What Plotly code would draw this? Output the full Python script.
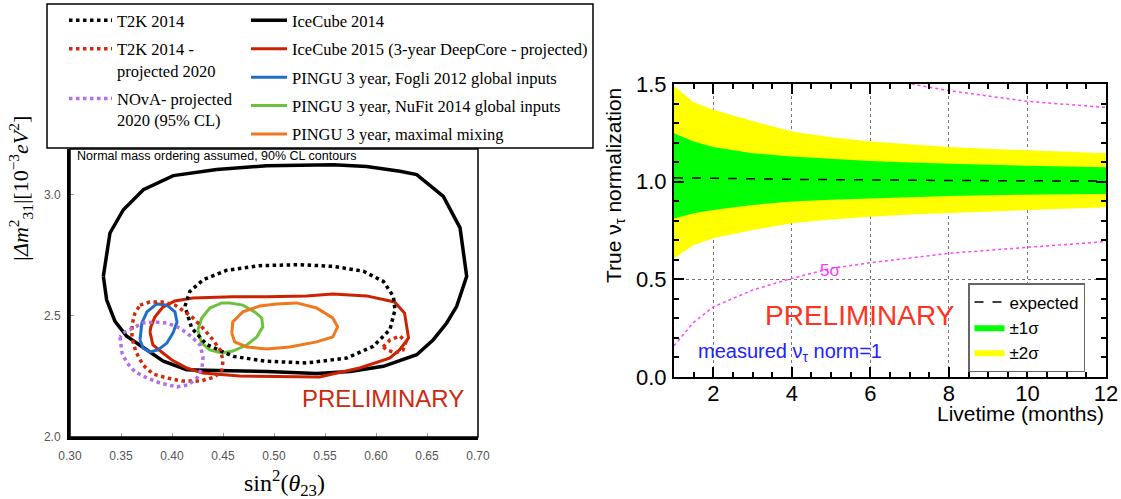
import plotly.graph_objects as go

# ---------------- Left panel: 90% CL contours (sin^2 theta23, |dm31^2|) ----------------
ic14_x = [0.3327, 0.3392, 0.3523, 0.3719, 0.4013, 0.4438, 0.4928, 0.5582, 0.5908, 0.6235,
          0.6399, 0.6660, 0.6824, 0.6889, 0.6791, 0.6693, 0.6562, 0.6399, 0.6072, 0.5745,
          0.5418, 0.4928, 0.4438, 0.4144, 0.3915, 0.3752, 0.3556, 0.3441, 0.3359]
ic14_y = [2.664, 2.843, 2.939, 3.022, 3.080, 3.105, 3.121, 3.125, 3.118, 3.098,
          3.084, 2.994, 2.864, 2.664, 2.540, 2.471, 2.402, 2.340, 2.292, 2.271,
          2.262, 2.271, 2.275, 2.278, 2.313, 2.361, 2.416, 2.478, 2.567]

t2k_x = [0.4127, 0.4176, 0.4307, 0.4536, 0.4863, 0.5255, 0.5582, 0.5876, 0.6072, 0.6170,
         0.6186, 0.6137, 0.5974, 0.5712, 0.5320, 0.4928, 0.4601, 0.4340, 0.4193]
t2k_y = [2.540, 2.602, 2.650, 2.689, 2.708, 2.712, 2.705, 2.685, 2.643, 2.581,
         2.526, 2.444, 2.375, 2.326, 2.306, 2.313, 2.333, 2.382, 2.450]

t2kp_x = [0.3686, 0.3784, 0.3902, 0.4029, 0.4127, 0.4196, 0.4304, 0.4402, 0.4471, 0.4500,
          0.4490, 0.4422, 0.4275, 0.4098, 0.3951, 0.3814, 0.3716, 0.3647, 0.3608, 0.3608, 0.3637]
t2kp_y = [2.545, 2.558, 2.558, 2.545, 2.517, 2.496, 2.450, 2.401, 2.360, 2.318,
          2.277, 2.248, 2.231, 2.231, 2.244, 2.260, 2.298, 2.351, 2.409, 2.463, 2.512]
t2kp2_x = [0.6069, 0.6137, 0.6235, 0.6294, 0.6265, 0.6186, 0.6108]
t2kp2_y = [2.372, 2.401, 2.417, 2.393, 2.360, 2.347, 2.360]

nova_x = [0.3490, 0.3510, 0.3559, 0.3637, 0.3754, 0.3882, 0.4049, 0.4157, 0.4245, 0.4294,
          0.4304, 0.4275, 0.4196, 0.4078, 0.3951, 0.3833, 0.3716, 0.3617, 0.3519]
nova_y = [2.413, 2.347, 2.306, 2.269, 2.244, 2.223, 2.207, 2.215, 2.244, 2.285,
          2.331, 2.380, 2.413, 2.450, 2.471, 2.475, 2.471, 2.450, 2.430]

ic15_x = [0.3784, 0.3813, 0.3911, 0.3999, 0.4146, 0.4302, 0.4664, 0.5154, 0.5448, 0.5575,
          0.5839, 0.6133, 0.6231, 0.6319, 0.6280, 0.6182, 0.5908, 0.5575, 0.5320, 0.4928,
          0.4595, 0.4204, 0.4028, 0.3911, 0.3832, 0.3793]
ic15_y = [2.434, 2.380, 2.347, 2.318, 2.285, 2.264, 2.252, 2.248, 2.248, 2.260,
          2.285, 2.326, 2.360, 2.409, 2.512, 2.558, 2.583, 2.591, 2.583, 2.579,
          2.579, 2.574, 2.562, 2.537, 2.496, 2.455]

fogli_x = [0.3686, 0.3705, 0.3754, 0.3852, 0.3950, 0.4029, 0.4049, 0.4010, 0.3950, 0.3862, 0.3784, 0.3716]
fogli_y = [2.401, 2.471, 2.517, 2.550, 2.545, 2.517, 2.475, 2.430, 2.388, 2.360, 2.351, 2.368]

nufit_x = [0.4253, 0.4292, 0.4371, 0.4488, 0.4566, 0.4694, 0.4811, 0.4880, 0.4890, 0.4831,
           0.4733, 0.4596, 0.4488, 0.4371, 0.4292]
nufit_y = [2.442, 2.492, 2.533, 2.554, 2.554, 2.545, 2.517, 2.492, 2.455, 2.413,
           2.380, 2.355, 2.347, 2.360, 2.388]

maxmix_x = [0.4586, 0.4596, 0.4694, 0.4860, 0.5027, 0.5222, 0.5418, 0.5575, 0.5624, 0.5575,
            0.5418, 0.5154, 0.4929, 0.4733, 0.4615]
maxmix_y = [2.430, 2.475, 2.517, 2.541, 2.550, 2.554, 2.533, 2.492, 2.455, 2.413,
            2.393, 2.372, 2.364, 2.372, 2.393]

left_xticks = [0.30, 0.35, 0.40, 0.45, 0.50, 0.55, 0.60, 0.65, 0.70]
left_yticks = [2.0, 2.5, 3.0]

# ---------------- Right panel: nu_tau normalization vs livetime ----------------
months = [1, 1.5, 2, 3, 4, 5, 6, 7, 8, 9, 10, 11, 12]
sig2_hi = [1.490, 1.406, 1.368, 1.310, 1.257, 1.228, 1.206, 1.190, 1.177, 1.168, 1.160, 1.152, 1.146]
sig2_lo = [0.607, 0.676, 0.710, 0.752, 0.787, 0.806, 0.821, 0.832, 0.841, 0.849, 0.855, 0.862, 0.869]
sig1_hi = [1.248, 1.206, 1.177, 1.146, 1.129, 1.116, 1.106, 1.098, 1.091, 1.086, 1.081, 1.077, 1.074]
sig1_lo = [0.812, 0.838, 0.855, 0.881, 0.898, 0.907, 0.915, 0.921, 0.927, 0.931, 0.934, 0.936, 0.937]
exp_x = [1, 4, 8, 12]
exp_y = [1.020, 1.012, 1.006, 1.003]
fivesig_lo_x = [1, 1.5, 2, 3, 4, 5, 6, 8, 10, 12]
fivesig_lo_y = [0.160, 0.280, 0.359, 0.445, 0.505, 0.556, 0.585, 0.633, 0.664, 0.693]
fivesig_hi_x = [6.9, 8, 10, 12]
fivesig_hi_y = [1.505, 1.466, 1.411, 1.380]

W, H = 1121, 499
def px(v): return v / W
def py(v): return (H - v) / H

fig = go.Figure()

def closed(a):
    return list(a) + [a[0]]

def contour(x, y, name, color, width, dash, legend, show=True):
    fig.add_trace(go.Scatter(x=closed(x), y=closed(y), mode="lines", name=name,
                             line=dict(color=color, width=width, dash=dash),
                             legend=legend, legendgroup=name, showlegend=show,
                             xaxis="x", yaxis="y", hoverinfo="skip"))

RED = "#cc2200"
RED_DOT = "#d42a0c"
PURPLE = "#b46ee8"
BLUE = "#1f6fc8"
GREEN = "#6cc23c"
ORANGE = "#f0781e"

contour(ic14_x, ic14_y, "IceCube 2014", "black", 3.5, "solid", "legend2")
contour(ic15_x, ic15_y, "IceCube 2015 (3-year DeepCore - projected)", RED, 3, "solid", "legend2")
contour(fogli_x, fogli_y, "PINGU 3 year, Fogli 2012 global inputs", BLUE, 3, "solid", "legend2")
contour(nufit_x, nufit_y, "PINGU 3 year, NuFit 2014 global inputs", GREEN, 3, "solid", "legend2")
contour(maxmix_x, maxmix_y, "PINGU 3 year, maximal mixing", ORANGE, 3, "solid", "legend2")
contour(t2k_x, t2k_y, "T2K 2014", "black", 3.5, "dot", "legend")
contour(t2kp_x, t2kp_y, "T2K 2014 -<br>projected 2020", RED_DOT, 3.5, "dot", "legend")
contour(t2kp2_x, t2kp2_y, "T2K 2014 -<br>projected 2020", RED_DOT, 3.5, "dot", "legend", show=False)
contour(nova_x, nova_y, "NOvA- projected<br>2020 (95% CL)", PURPLE, 3.5, "dot", "legend")

# ---- right panel traces
fig.add_trace(go.Scatter(x=months + months[::-1], y=sig2_hi + sig2_lo[::-1], mode="lines",
                         fill="toself", fillcolor="#ffff00", line=dict(width=0, color="#ffff00"),
                         name="±2σ", legend="legend3", legendrank=3,
                         xaxis="x2", yaxis="y2", hoverinfo="skip"))
fig.add_trace(go.Scatter(x=months + months[::-1], y=sig1_hi + sig1_lo[::-1], mode="lines",
                         fill="toself", fillcolor="#00ff00", line=dict(width=0, color="#00ff00"),
                         name="±1σ", legend="legend3", legendrank=2,
                         xaxis="x2", yaxis="y2", hoverinfo="skip"))
fig.add_trace(go.Scatter(x=exp_x, y=exp_y, mode="lines", name="expected",
                         line=dict(color="black", width=1.5, dash="dash"),
                         legend="legend3", legendrank=1, xaxis="x2", yaxis="y2", hoverinfo="skip"))
fig.add_trace(go.Scatter(x=fivesig_lo_x, y=fivesig_lo_y, mode="lines", showlegend=False,
                         line=dict(color="#ff44ff", width=1.5, dash="dot"),
                         xaxis="x2", yaxis="y2", hoverinfo="skip"))
fig.add_trace(go.Scatter(x=fivesig_hi_x, y=fivesig_hi_y, mode="lines", showlegend=False,
                         line=dict(color="#ff44ff", width=1.5, dash="dot"),
                         xaxis="x2", yaxis="y2", hoverinfo="skip"))

SANS = "Liberation Sans, Arial, sans-serif"
SERIF = "Liberation Serif, Times New Roman, serif"

fig.update_layout(
    width=W, height=H, margin=dict(l=0, r=0, t=0, b=0, autoexpand=False),
    paper_bgcolor="white", plot_bgcolor="white",
    font=dict(family=SANS, color="black"),
    xaxis=dict(domain=[px(70), px(478)], range=[0.30, 0.70], tickvals=left_xticks,
               tickformat=".2f", showgrid=False, zeroline=False, showline=True,
               linecolor="black", linewidth=3, ticks="inside", ticklen=4, tickcolor="#999",
               tickfont=dict(family=SANS, size=12, color="#555"), ticklabelstandoff=6,
               anchor="y", automargin=False),
    yaxis=dict(domain=[py(437), py(149)], range=[2.0, 3.19], tickvals=left_yticks,
               tickformat=".1f", showgrid=False, zeroline=False, showline=True,
               linecolor="black", linewidth=3, ticks="inside", ticklen=4, tickcolor="#999",
               tickfont=dict(family=SANS, size=12, color="#555"), ticklabelstandoff=4,
               anchor="x", automargin=False),
    xaxis2=dict(domain=[px(674), px(1106)], range=[1, 12], tick0=0, dtick=2,
                showgrid=True, gridcolor="#777", griddash="dot", gridwidth=1, zeroline=False,
                showline=True, linecolor="black", linewidth=2, mirror="ticks",
                ticks="inside", ticklen=10, tickcolor="black", tickwidth=1.5,
                minor=dict(dtick=0.5, ticks="inside", ticklen=5, tickcolor="black", showgrid=False),
                tickfont=dict(family=SANS, size=22, color="black"), layer="above traces",
                ticklabelstandoff=-4, anchor="y2", automargin=False),
    yaxis2=dict(domain=[py(377), py(84)], range=[0, 1.5], tick0=0, dtick=0.5, tickformat=".1f",
                showgrid=True, gridcolor="#777", griddash="dot", gridwidth=1, zeroline=False,
                showline=True, linecolor="black", linewidth=2, mirror="ticks",
                ticks="inside", ticklen=10, tickcolor="black", tickwidth=1.5,
                minor=dict(dtick=0.1, ticks="inside", ticklen=5, tickcolor="black", showgrid=False),
                tickfont=dict(family=SANS, size=22, color="black"), layer="above traces",
                ticklabelstandoff=1, anchor="x2", automargin=False),
    legend=dict(x=px(64), y=py(3), xanchor="left", yanchor="top", bgcolor="rgba(0,0,0,0)",
                font=dict(family=SERIF, size=16.5, color="black"), valign="top",
                tracegroupgap=4, itemwidth=43),
    legend2=dict(x=px(246), y=py(3), xanchor="left", yanchor="top", bgcolor="rgba(0,0,0,0)",
                 font=dict(family=SERIF, size=16.5, color="black"), valign="top",
                 tracegroupgap=4, itemwidth=36),
    legend3=dict(x=px(968), y=py(283), xanchor="left", yanchor="top", bgcolor="white",
                 bordercolor="#666", borderwidth=1.5,
                 font=dict(family=SANS, size=17, color="black"), tracegroupgap=1,
                 traceorder="normal", itemwidth=30),
    showlegend=True,
)

# Left legend box and thin top/right frame
fig.add_shape(type="rect", xref="x domain", yref="y domain", x0=0, x1=1, y0=0, y1=1,
              line=dict(color="black", width=1.5), layer="above")
fig.add_shape(type="rect", xref="paper", yref="paper", x0=px(47), x1=px(593), y0=py(148), y1=py(4),
              line=dict(color="black", width=1.5), fillcolor="white", layer="above")

annots = [
    dict(x=0.3049, y=3.161, xref="x", yref="y", text="Normal mass ordering assumed, 90% CL contours",
         xanchor="left", yanchor="middle", showarrow=False, font=dict(family=SANS, size=12.5, color="black")),
    dict(x=0.6066, y=2.161, xref="x", yref="y", text="PRELIMINARY", showarrow=False,
         xanchor="center", yanchor="middle", font=dict(family=SANS, size=24, color="#cc2a10")),
    dict(x=px(20), y=py(189), xref="paper", yref="paper", textangle=-90, showarrow=False,
         xanchor="center", yanchor="middle",
         text="<i>|Δm</i><sup>2</sup><sub>31</sub>|[10<sup>−3</sup><i>eV</i><sup>2</sup>]",
         font=dict(family=SERIF, size=22, color="black")),
    dict(x=px(284), y=py(483), xref="paper", yref="paper", showarrow=False,
         xanchor="center", yanchor="middle",
         text="sin<sup>2</sup>(<i>θ</i><sub>23</sub>)", font=dict(family=SERIF, size=24, color="black")),
    dict(x=4.97, y=0.545, xref="x2", yref="y2", text="5σ", showarrow=False,
         xanchor="center", yanchor="middle", font=dict(family=SANS, size=17, color="#ff33ff")),
    dict(x=5.74, y=0.315, xref="x2", yref="y2", text="PRELIMINARY", showarrow=False,
         xanchor="center", yanchor="middle", font=dict(family=SANS, size=28, color="#ff3322")),
    dict(x=3.95, y=0.128, xref="x2", yref="y2", text="measured ν<sub>τ</sub> norm=1", showarrow=False,
         xanchor="center", yanchor="middle", font=dict(family=SANS, size=20, color="#2222ff")),
    dict(x=px(615), y=py(186), xref="paper", yref="paper", textangle=-90, showarrow=False,
         xanchor="center", yanchor="middle",
         text="True ν<sub>τ</sub> normalization", font=dict(family=SANS, size=21, color="black")),
    dict(x=px(1106), y=py(413), xref="paper", yref="paper", xanchor="right", yanchor="middle",
         showarrow=False, text="Livetime (months)", font=dict(family=SANS, size=21, color="black")),
]
fig.update_layout(annotations=annots)

fig.write_html("out.html", config={"displayModeBar": False},
               post_script="document.body.style.margin='0';document.body.style.padding='0';")
